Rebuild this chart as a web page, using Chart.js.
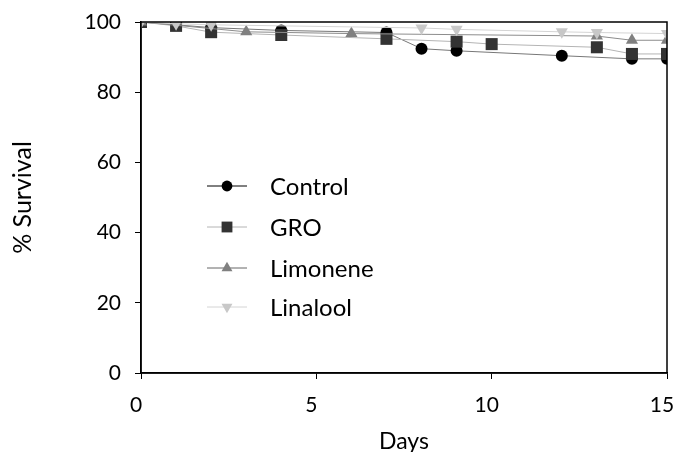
<!DOCTYPE html>
<html>
<head>
<meta charset="utf-8">
<script src="https://cdn.jsdelivr.net/npm/chart.js@4/dist/chart.umd.min.js"></script>
<style>
  html, body { margin: 0; padding: 0; background: #fff; }
  #wrap { width: 676px; height: 452px; }
</style>
</head>
<body>
<div id="wrap"><canvas id="survivalChart"></canvas></div>
<script>
const FONT = 'Lato, "Open Sans", sans-serif';

// data: [day, % survival]
const controlDays = [0, 2, 4, 7, 8, 9, 12, 14, 15];
const controlVals = [100, 98.4, 97.6, 97.0, 92.4, 91.8, 90.4, 89.5, 89.5];

const groDays = [0, 1, 2, 4, 7, 9, 10, 13, 14, 15];
const groVals = [100, 98.9, 97.1, 96.3, 95.2, 94.4, 93.7, 92.8, 90.9, 90.9];

const limoneneDays = [0, 3, 6, 13, 14, 15];
const limoneneVals = [100, 97.2, 96.7, 96.0, 94.8, 94.8];

const linaloolDays = [0, 1, 2, 8, 9, 12, 13, 15];
const linaloolVals = [100, 99.5, 99.2, 98.3, 97.9, 97.2, 97.0, 96.7];

const xTicks = [0, 5, 10, 15];
const yTicks = [0, 20, 40, 60, 80, 100];

const toPoints = (days, vals) => days.map((d, i) => ({ x: d, y: vals[i] }));

// legend sits inside the plot area, like the original
const insideLegend = {
  id: 'insideLegend',
  afterDraw(chart) {
    const ctx = chart.ctx;
    const rows = [186, 227, 268, 307];
    ctx.save();
    chart.data.datasets.forEach((ds, i) => {
      const y = rows[i];
      ctx.strokeStyle = ds.legendLine || ds.borderColor;
      ctx.lineWidth = 1;
      ctx.beginPath();
      ctx.moveTo(207, y);
      ctx.lineTo(247, y);
      ctx.stroke();
      ctx.fillStyle = ds.pointBackgroundColor;
      ctx.strokeStyle = ds.pointBackgroundColor;
      ctx.lineWidth = 0;
      Chart.helpers.drawPoint(ctx, {
        pointStyle: ds.pointStyle,
        rotation: ds.pointRotation || 0,
        radius: ds.pointRadius * 0.9,
        borderWidth: 0
      }, 227, y);
      ctx.fillStyle = '#000';
      ctx.font = '24px ' + FONT;
      ctx.textBaseline = 'middle';
      ctx.fillText(ds.label, 270, y + 1);
    });
    ctx.restore();
  }
};

// box round the plot area
const plotBox = {
  id: 'plotBox',
  afterDatasetsDraw(chart) {
    const { left, top, right, bottom } = chart.chartArea;
    const ctx = chart.ctx;
    ctx.save();
    ctx.strokeStyle = '#000';
    ctx.lineWidth = 1.5;
    ctx.strokeRect(left, top, right - left, bottom - top);
    ctx.restore();
  }
};

new Chart(document.getElementById('survivalChart'), {
  type: 'line',
  data: {
    datasets: [
      {
        label: 'Control',
        data: toPoints(controlDays, controlVals),
        borderColor: '#777',
        legendLine: '#000',
        borderWidth: 1,
        pointStyle: 'circle',
        pointRadius: 6,
        pointBackgroundColor: '#000',
        pointBorderWidth: 0,
        order: 4
      },
      {
        label: 'GRO',
        data: toPoints(groDays, groVals),
        borderColor: '#b4b4b4',
        borderWidth: 1,
        pointStyle: 'rect',
        pointRadius: 8.5,
        pointBackgroundColor: '#333',
        pointBorderWidth: 0,
        order: 3
      },
      {
        label: 'Limonene',
        data: toPoints(limoneneDays, limoneneVals),
        borderColor: '#8c8c8c',
        legendLine: '#666',
        borderWidth: 1,
        pointStyle: 'triangle',
        pointRadius: 7,
        pointBackgroundColor: '#808080',
        pointBorderWidth: 0,
        order: 2
      },
      {
        label: 'Linalool',
        data: toPoints(linaloolDays, linaloolVals),
        borderColor: '#d4d4d4',
        borderWidth: 1,
        pointStyle: 'triangle',
        pointRotation: 180,
        pointRadius: 7,
        pointBackgroundColor: '#c8c8c8',
        pointBorderWidth: 0,
        order: 1
      }
    ]
  },
  options: {
    responsive: true,
    maintainAspectRatio: false,
    animation: false,
    layout: { padding: { top: 22, right: 9, left: 0, bottom: 0 } },
    plugins: {
      legend: { display: false },
      tooltip: { enabled: false }
    },
    elements: { line: { tension: 0 } },
    scales: {
      x: {
        type: 'linear',
        min: 0,
        max: 15,
        afterBuildTicks: s => { s.ticks = xTicks.map(v => ({ value: v })); },
        afterFit: s => { s.height = 79; s.paddingLeft = 0; s.paddingRight = 0; },
        grid: { drawOnChartArea: false, tickLength: 6, color: '#000' },
        border: { color: '#000', width: 1.5 },
        ticks: { color: '#000', padding: 14, labelOffset: -5, font: { family: FONT, size: 21 } },
        title: {
          display: true,
          text: 'Days',
          color: '#000',
          padding: { top: 4, bottom: -3 },
          font: { family: FONT, size: 23 }
        }
      },
      y: {
        min: 0,
        max: 100,
        afterBuildTicks: s => { s.ticks = yTicks.map(v => ({ value: v })); },
        afterFit: s => { s.width = 141; s.paddingTop = 0; s.paddingBottom = 0; },
        grid: { drawOnChartArea: false, tickLength: 6, color: '#000' },
        border: { color: '#000', width: 1.5 },
        ticks: { color: '#000', padding: 14, font: { family: FONT, size: 21 } },
        title: {
          display: true,
          text: '% Survival',
          color: '#000',
          padding: { top: 8, bottom: 0 },
          font: { family: FONT, size: 25 }
        }
      }
    }
  },
  plugins: [plotBox, insideLegend]
});
</script>
</body>
</html>
